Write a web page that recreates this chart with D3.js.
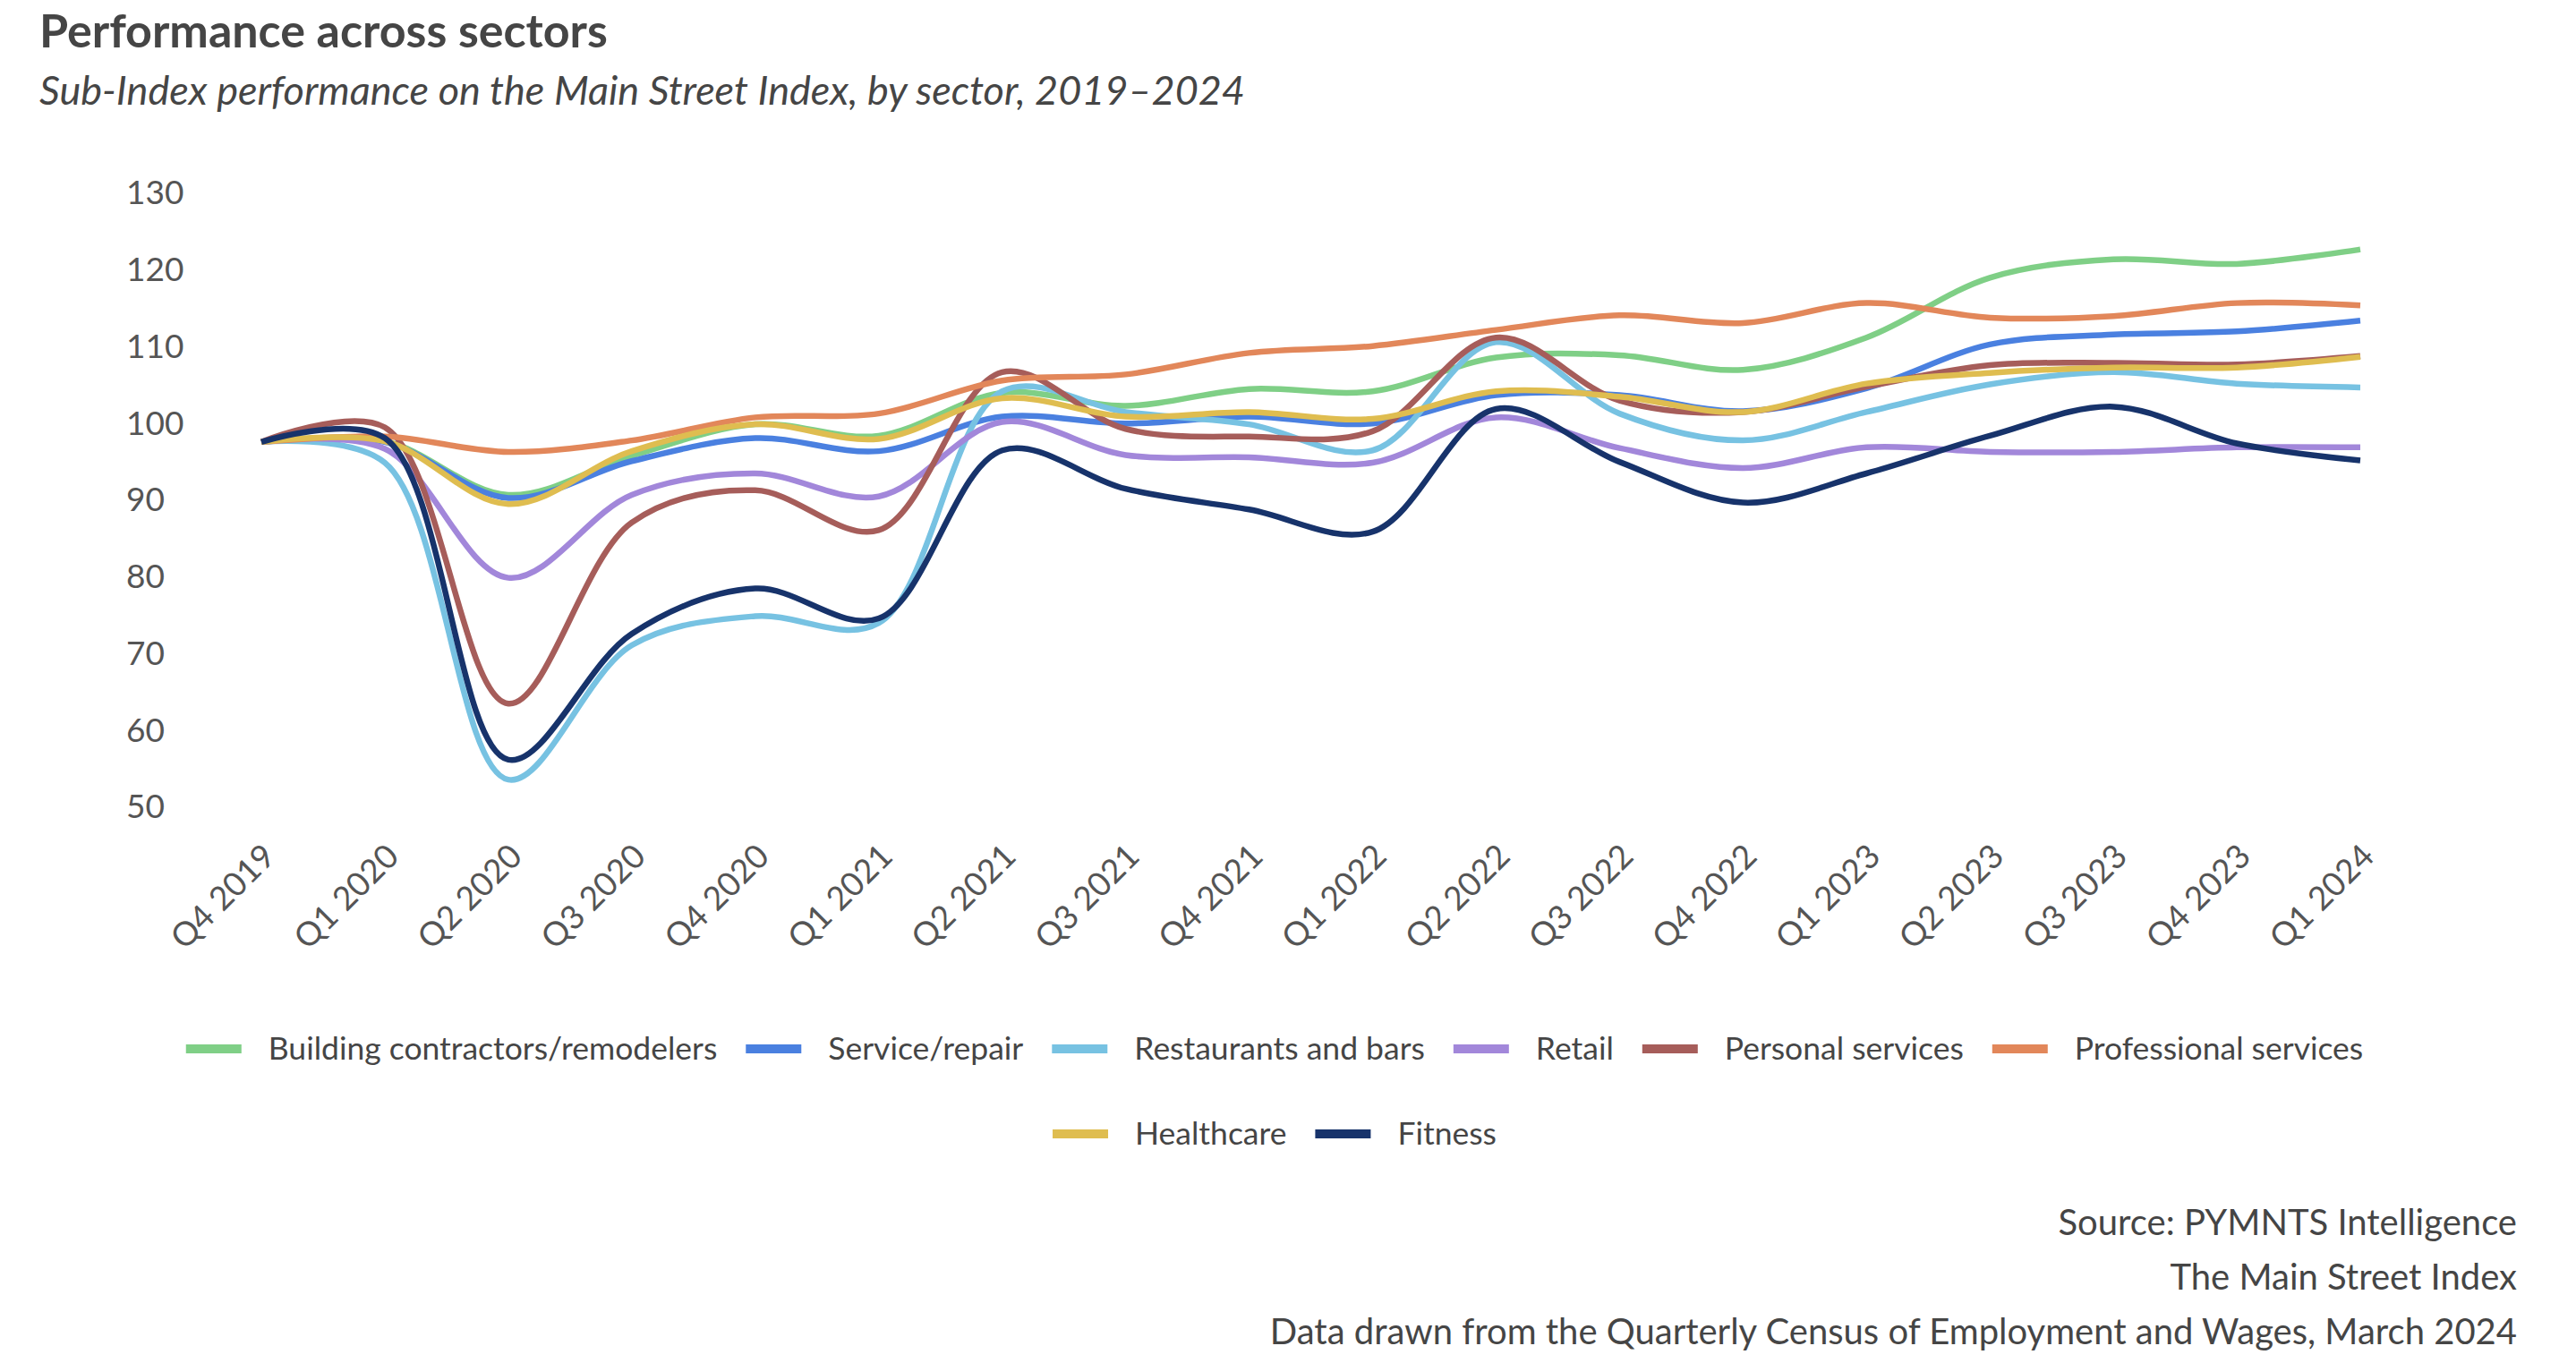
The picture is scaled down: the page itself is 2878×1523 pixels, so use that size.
<!DOCTYPE html>
<html>
<head>
<meta charset="utf-8">
<script src="https://cdn.jsdelivr.net/npm/d3@7"></script>
<style>
  body { margin: 0; background: #fff; }
  svg { display: block; font-family: Lato, "Open Sans", sans-serif; }
</style>
</head>
<body>
<div id="chart"></div>
<script>
const quarters = ['Q4 2019', 'Q1 2020', 'Q2 2020', 'Q3 2020', 'Q4 2020', 'Q1 2021', 'Q2 2021', 'Q3 2021', 'Q4 2021',
  'Q1 2022', 'Q2 2022', 'Q3 2022', 'Q4 2022', 'Q1 2023', 'Q2 2023', 'Q3 2023', 'Q4 2023', 'Q1 2024'];
const yTicks = [50, 60, 70, 80, 90, 100, 110, 120, 130];

const building = [97.6, 97.7, 90.7, 95.8, 99.9, 98.4, 104.0, 102.3, 104.5, 104.2, 108.6, 108.9, 107.0, 111.2, 119.0, 121.4, 120.8, 122.7];
const serviceRepair = [97.6, 97.6, 90.3, 95.1, 98.1, 96.4, 100.9, 100.0, 100.9, 100.0, 103.7, 103.7, 101.6, 104.6, 110.3, 111.6, 112.0, 113.4];
const restaurants = [97.6, 94.9, 53.6, 71.1, 74.9, 74.0, 104.2, 101.5, 99.9, 96.5, 110.6, 101.3, 97.8, 101.5, 105.1, 106.7, 105.2, 104.7];
const retail = [97.6, 96.7, 79.9, 90.7, 93.5, 90.5, 100.2, 95.9, 95.6, 94.9, 100.8, 96.8, 94.2, 96.9, 96.3, 96.3, 96.9, 96.9];
const personal = [97.6, 99.5, 63.5, 87.1, 91.3, 86.1, 106.7, 99.3, 98.3, 99.0, 111.2, 103.0, 101.5, 104.8, 107.6, 107.9, 107.7, 108.8];
const professional = [97.6, 98.3, 96.3, 97.8, 100.8, 101.3, 105.6, 106.4, 109.2, 110.1, 112.2, 114.1, 113.1, 115.7, 113.8, 114.0, 115.7, 115.4];
const healthcare = [97.6, 97.7, 89.5, 96.4, 99.9, 98.0, 103.3, 100.9, 101.5, 100.6, 104.2, 103.5, 101.5, 105.2, 106.6, 107.3, 107.3, 108.7];
const fitness = [97.6, 98.1, 56.2, 72.6, 78.5, 74.6, 96.5, 91.5, 88.8, 85.9, 101.9, 95.0, 89.7, 93.5, 98.4, 102.2, 97.4, 95.2];

const seriesNames = ['Building contractors/remodelers', 'Service/repair', 'Restaurants and bars', 'Retail',
  'Personal services', 'Professional services', 'Healthcare', 'Fitness'];
const seriesValues = [building, serviceRepair, restaurants, retail, personal, professional, healthcare, fitness];
const colors = ['#7fcf86', '#4a80e0', '#77c2e2', '#a287da', '#a65d5a', '#e2875a', '#dfbd50', '#17336b'];

const sources = ['Source: PYMNTS Intelligence', 'The Main Street Index',
  'Data drawn from the Quarterly Census of Employment and Wages, March 2024'];

const width = 2878;
const height = 1523;
const textColor = '#454545';

const svg = d3.select('#chart')
  .append('svg')
  .attr('width', width)
  .attr('height', height)
  .attr('viewBox', `0 0 ${width} ${height}`);

// title + subtitle
svg.append('text')
  .attr('x', 44).attr('y', 53)
  .attr('font-size', 52).attr('font-weight', 700)
  .attr('fill', textColor)
  .text('Performance across sectors');

svg.append('text')
  .attr('x', 44).attr('y', 117)
  .attr('font-size', 45).attr('font-style', 'italic')
  .attr('fill', textColor)
  .text('Sub-Index performance on the Main Street Index, by sector, 2019\u20132024');

// scales
const x = d3.scalePoint()
  .domain(quarters)
  .range([292, 2637]);

const y = d3.scaleLinear()
  .domain([50, 130])
  .range([902, 216]);

// y axis, labels left aligned, no line or grid
const yAxis = svg.append('g')
  .attr('transform', 'translate(141, 0)')
  .call(d3.axisRight(y).tickValues(yTicks).tickSize(0).tickPadding(0));
yAxis.select('.domain').remove();
yAxis.selectAll('text')
  .attr('font-family', 'Lato, sans-serif')
  .attr('font-size', 37)
  .attr('fill', '#555');

// x axis, rotated labels
const xAxis = svg.append('g')
  .attr('transform', 'translate(8, 950)')
  .call(d3.axisBottom(x).tickSize(0).tickPadding(0));
xAxis.select('.domain').remove();
xAxis.selectAll('text')
  .attr('font-family', 'Lato, sans-serif')
  .attr('font-size', 37)
  .attr('fill', '#555')
  .attr('text-anchor', 'end')
  .attr('y', 0)
  .attr('dy', '0.35em')
  .attr('transform', 'rotate(-45)');

// lines
const line = d3.line()
  .x((d, i) => x(quarters[i]))
  .y(d => y(d))
  .curve(d3.curveCatmullRom.alpha(0.5));

svg.append('g')
  .selectAll('path')
  .data(seriesValues)
  .enter()
  .append('path')
  .attr('d', d => line(d))
  .attr('fill', 'none')
  .attr('stroke', (d, i) => colors[i])
  .attr('stroke-width', 6.5)
  .attr('stroke-linejoin', 'round');

// legend, wrapped into centred rows
const swatchW = 62, swatchGap = 30, itemGap = 32, maxRow = 2550, legendCx = 1424;
const legend = svg.append('g');
const items = seriesNames.map((name, i) => {
  const g = legend.append('g');
  g.append('rect')
    .attr('width', swatchW).attr('height', 10).attr('y', -5)
    .attr('fill', colors[i]);
  const t = g.append('text')
    .attr('x', swatchW + swatchGap)
    .attr('dy', '0.35em')
    .attr('font-size', 35.5)
    .attr('fill', textColor)
    .text(name);
  return { g, w: swatchW + swatchGap + t.node().getComputedTextLength() };
});

const rows = [[]];
let rowW = 0;
items.forEach(it => {
  const add = (rows[rows.length - 1].length ? itemGap : 0) + it.w;
  if (rowW + add > maxRow) { rows.push([it]); rowW = it.w; }
  else { rows[rows.length - 1].push(it); rowW += add; }
});
rows.forEach((row, r) => {
  const total = d3.sum(row, d => d.w) + itemGap * (row.length - 1);
  let cx = legendCx - total / 2;
  row.forEach(it => {
    it.g.attr('transform', `translate(${cx}, ${1172 + r * 95})`);
    cx += it.w + itemGap;
  });
});

// source notes
svg.append('g')
  .selectAll('text')
  .data(sources)
  .enter()
  .append('text')
  .attr('x', 2812)
  .attr('y', (d, i) => 1380 + i * 61)
  .attr('text-anchor', 'end')
  .attr('font-size', 40)
  .attr('fill', textColor)
  .text(d => d);
</script>
</body>
</html>
